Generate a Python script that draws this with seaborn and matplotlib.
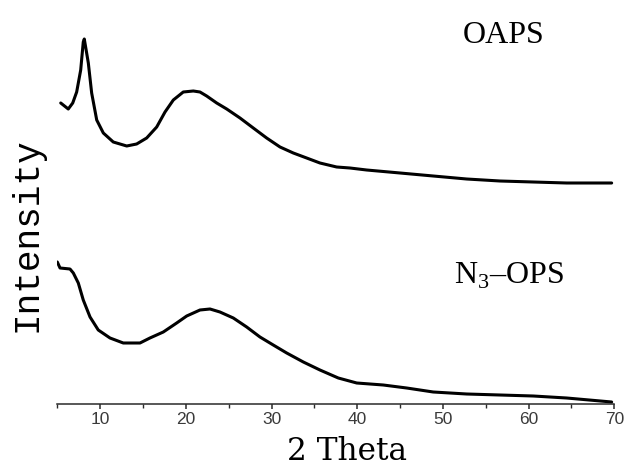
import matplotlib
matplotlib.use("Agg")
import matplotlib.pyplot as plt
import pandas as pd
import seaborn as sns

# XRD patterns (2-theta in degrees, intensity in arbitrary units)
two_theta_oaps = [5.40, 6.28, 6.80, 7.26, 7.73, 8.03, 8.15, 8.62, 9.01, 9.60,
                  10.37, 11.53, 13.10, 14.26, 15.43, 16.60, 17.57, 18.54, 19.70,
                  20.87, 21.65, 22.43, 23.60, 24.77, 26.32, 27.87, 29.43, 30.99,
                  32.54, 34.10, 35.65, 37.60, 39.15, 41.10, 45.00, 48.87, 52.77,
                  56.66, 60.54, 64.44, 69.69]
intensity_oaps = [301, 295, 301, 312, 334, 362, 365, 341, 311, 284,
                  271, 262, 258, 260, 266, 277, 292, 304, 312,
                  313, 312, 308, 301, 295, 286, 276, 266, 257,
                  251, 246, 241, 237, 236, 234, 231, 228, 225,
                  223, 222, 221, 221]

two_theta_n3 = [5.00, 5.32, 6.48, 6.87, 7.45, 8.03, 8.82, 9.78, 11.15, 12.70,
                14.65, 15.81, 17.37, 18.93, 20.10, 21.65, 22.82, 23.98, 25.54,
                27.10, 28.65, 30.20, 31.77, 33.71, 35.65, 37.79, 39.94, 43.04,
                45.77, 48.87, 52.77, 56.66, 60.54, 64.44, 69.69]
intensity_n3 = [142, 136, 135, 131, 121, 104, 87, 74, 66, 61,
                61, 66, 72, 81, 88, 94, 95, 92, 86,
                77, 67, 59, 51, 42, 34, 26, 21, 19,
                16, 12, 10, 9, 8, 6, 2]

x_major_ticks = [10, 20, 30, 40, 50, 60, 70]
x_minor_ticks = [5, 15, 25, 35, 45, 55, 65]
curve_labels = ["OAPS", "N$_3$–OPS"]
x_title = "2 Theta"
y_title = "Intensity"

sns.set_theme(style="white")
plt.rcParams["font.family"] = ["Liberation Sans", "DejaVu Sans"]
plt.rcParams["mathtext.fontset"] = "custom"
plt.rcParams["mathtext.rm"] = "Liberation Serif"

df_oaps = pd.DataFrame({"two_theta": two_theta_oaps, "intensity": intensity_oaps})
df_n3 = pd.DataFrame({"two_theta": two_theta_n3, "intensity": intensity_n3})

W, H = 625, 468
fig = plt.figure(figsize=(W / 100, H / 100), dpi=100)
ax = fig.add_axes([57.3 / W, 64 / H, 557 / W, 404 / H])

for df in (df_oaps, df_n3):
    sns.lineplot(data=df, x="two_theta", y="intensity", color="black",
                 linewidth=2.2, ax=ax)

ax.set_xlim(5, 70)
ax.set_ylim(0, 404)
ax.set_xlabel("")
ax.set_ylabel("")
ax.set_yticks([])
ax.set_xticks(x_major_ticks)
ax.set_xticks(x_minor_ticks, minor=True)
for side in ("top", "right", "left"):
    ax.spines[side].set_visible(False)
ax.spines["bottom"].set_color("#2a2a2a")
ax.spines["bottom"].set_linewidth(1.1)
ax.tick_params(axis="x", which="major", bottom=True, direction="out",
               length=3.6, width=1.1, color="#2a2a2a", labelsize=12.5,
               labelcolor="#3a3a3a", pad=2)
ax.tick_params(axis="x", which="minor", bottom=True, direction="out",
               length=3.0, width=1.0, color="#2a2a2a")

# curve names
fig.text(504 / W, 1 - 43.3 / H, curve_labels[0], ha="center", va="baseline",
         fontfamily="Liberation Serif", fontsize=23, color="black")
fig.text(509.5 / W, 1 - 283.3 / H, curve_labels[1], ha="center", va="baseline",
         fontfamily="Liberation Serif", fontsize=23, color="black")

# axis titles
fig.text(347 / W, 1 - 460 / H, x_title, ha="center", va="baseline",
         fontfamily="DejaVu Serif", fontsize=22.5, color="black")
fig.text(37 / W, 1 - 234.5 / H, y_title, rotation=90, rotation_mode="anchor",
         ha="center", va="baseline", fontfamily="Liberation Mono",
         fontsize=26, color="black")

fig.savefig("out.png", dpi=100)
